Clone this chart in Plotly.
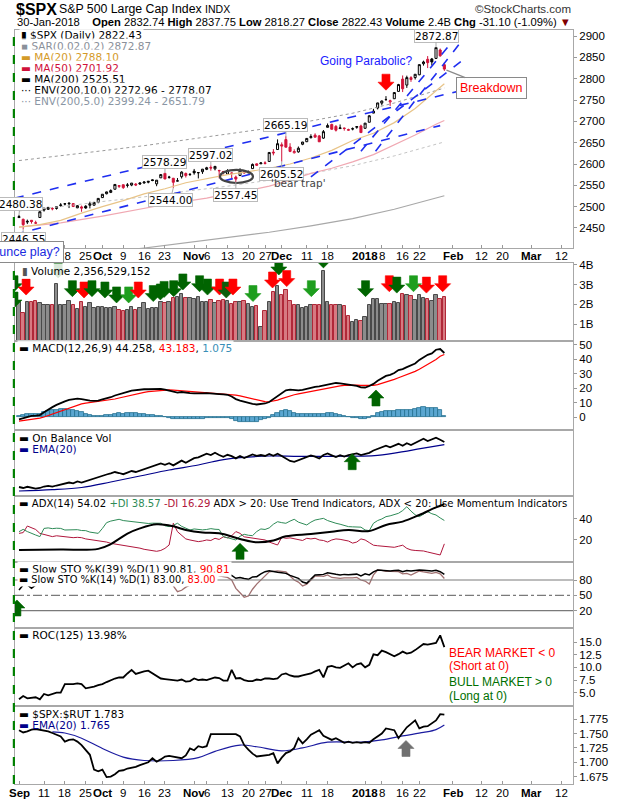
import plotly.graph_objects as go

# ---------------- data (trading-day index 0 = 1-Sep-2017, 102 = 30-Jan-2018)
PREV_CLOSE = 2471.65

OPEN = [
    2474.42, 2470.35, 2463.83, 2468.06, 2462.25, 2474.52, 2491.94, 2493.89, 2494.56, 2495.67,
    2502.51, 2506.29, 2506.84, 2507.16, 2497.26, 2499.39, 2501.04, 2503.30, 2503.41, 2510.42,
    2521.20, 2530.34, 2533.48, 2540.86, 2547.44, 2551.39, 2549.99, 2550.62, 2552.88, 2555.66,
    2555.57, 2557.17, 2562.87, 2553.39, 2567.56, 2578.08, 2568.66, 2566.52, 2560.08, 2570.26,
    2577.75, 2575.99, 2583.21, 2579.46, 2581.93, 2587.47, 2592.11, 2588.71, 2584.00, 2580.18,
    2576.53, 2577.75, 2569.45, 2572.95, 2582.94, 2579.49, 2589.17, 2600.31, 2600.42, 2602.66,
    2605.94, 2627.82, 2633.93, 2645.10, 2657.19, 2639.78, 2626.24, 2628.38, 2646.21, 2652.19,
    2661.73, 2667.59, 2665.87, 2660.63, 2685.92, 2692.71, 2688.18, 2683.02, 2684.22, 2679.09,
    2682.10, 2686.10, 2689.15, 2683.73, 2697.85, 2719.31, 2731.33, 2742.67, 2751.15, 2745.55,
    2752.97, 2770.18, 2798.96, 2784.99, 2802.40, 2802.60, 2809.16, 2835.05, 2845.42, 2846.24,
    2847.48, 2867.23, 2832.74]
HIGH = [
    2480.38, 2471.97, 2469.64, 2468.62, 2467.11, 2488.95, 2496.77, 2498.37, 2498.43, 2500.23,
    2508.32, 2507.84, 2508.85, 2507.16, 2503.47, 2502.54, 2503.51, 2511.75, 2510.81, 2519.44,
    2529.23, 2535.13, 2540.53, 2552.51, 2549.41, 2551.82, 2555.23, 2555.24, 2555.33, 2557.65,
    2559.47, 2559.71, 2564.11, 2562.36, 2575.44, 2578.29, 2572.18, 2567.40, 2567.07, 2582.98,
    2580.03, 2578.29, 2588.40, 2581.11, 2588.42, 2593.38, 2597.02, 2595.47, 2586.50, 2583.81,
    2587.66, 2579.66, 2572.84, 2590.09, 2583.96, 2584.64, 2601.19, 2600.94, 2604.21, 2606.41,
    2627.69, 2634.89, 2657.74, 2650.62, 2665.19, 2648.72, 2634.41, 2640.99, 2651.65, 2660.33,
    2669.72, 2671.88, 2668.09, 2679.63, 2694.97, 2694.44, 2691.01, 2692.64, 2685.35, 2682.74,
    2685.64, 2687.66, 2692.12, 2695.89, 2714.37, 2729.29, 2743.45, 2748.51, 2759.14, 2750.80,
    2767.56, 2787.85, 2807.54, 2807.04, 2805.83, 2810.33, 2833.03, 2842.24, 2852.97, 2848.56,
    2872.87, 2870.62, 2837.75]
LOW = [
    2473.85, 2446.55, 2459.20, 2460.29, 2459.40, 2474.52, 2488.40, 2492.14, 2491.35, 2493.16,
    2499.92, 2502.94, 2496.67, 2499.00, 2496.54, 2488.03, 2495.12, 2495.91, 2502.93, 2507.99,
    2520.40, 2528.85, 2531.80, 2540.02, 2543.79, 2541.60, 2544.86, 2547.95, 2548.31, 2552.09,
    2553.86, 2554.69, 2559.67, 2547.92, 2567.56, 2564.33, 2565.58, 2544.00, 2559.80, 2565.94,
    2568.25, 2572.15, 2574.92, 2566.17, 2576.77, 2585.66, 2584.35, 2585.02, 2566.33, 2575.57,
    2576.48, 2566.56, 2557.45, 2572.95, 2577.62, 2578.24, 2589.17, 2595.23, 2600.42, 2598.87,
    2605.44, 2620.32, 2633.93, 2605.52, 2639.03, 2627.73, 2624.75, 2626.53, 2644.10, 2651.47,
    2659.78, 2662.85, 2652.01, 2659.14, 2685.92, 2680.74, 2676.11, 2682.40, 2678.13, 2677.96,
    2678.91, 2682.69, 2673.61, 2682.36, 2697.77, 2719.07, 2727.92, 2737.60, 2747.86, 2736.06,
    2752.78, 2769.64, 2768.64, 2778.38, 2792.56, 2798.08, 2808.12, 2830.59, 2824.81, 2830.94,
    2846.18, 2851.48, 2818.27]
CLOSE = [
    2476.55, 2457.85, 2465.54, 2465.10, 2461.43, 2488.11, 2496.48, 2498.37, 2495.62, 2500.23,
    2503.87, 2506.65, 2508.24, 2500.60, 2502.22, 2496.66, 2496.84, 2507.04, 2510.06, 2519.36,
    2529.12, 2534.58, 2537.74, 2552.07, 2549.33, 2544.73, 2550.64, 2555.24, 2550.93, 2553.17,
    2557.64, 2559.36, 2561.26, 2562.10, 2575.21, 2564.98, 2569.13, 2557.15, 2560.40, 2581.07,
    2572.83, 2575.26, 2579.36, 2579.85, 2587.84, 2591.13, 2590.64, 2594.38, 2584.62, 2582.30,
    2584.84, 2578.87, 2564.62, 2585.64, 2578.85, 2582.14, 2599.03, 2597.08, 2602.42, 2601.42,
    2627.04, 2626.07, 2647.58, 2642.22, 2639.44, 2629.57, 2629.27, 2636.98, 2651.50, 2659.99,
    2664.11, 2662.85, 2652.01, 2675.81, 2690.16, 2681.47, 2679.25, 2684.57, 2683.34, 2680.50,
    2682.62, 2687.54, 2673.61, 2695.81, 2713.06, 2723.99, 2743.15, 2747.71, 2751.29, 2748.23,
    2767.56, 2786.24, 2776.42, 2802.56, 2798.03, 2810.30, 2832.97, 2839.13, 2837.54, 2839.25,
    2872.87, 2853.53, 2822.43]

MA20_X = [0, 5, 10, 15, 20, 25, 30, 35, 40, 45, 50, 55, 60, 65, 70, 75, 80, 85, 90, 95, 100, 102]
MA20 = [2452, 2458, 2468, 2485, 2500, 2514, 2530, 2542, 2556, 2566, 2575, 2582, 2590, 2600,
        2614, 2632, 2655, 2672, 2697, 2730, 2772, 2788.10]
MA50_X = [0, 10, 20, 30, 35, 45, 50, 55, 60, 65, 70, 75, 80, 85, 90, 95, 100, 102]
MA50 = [2452, 2462, 2478, 2495, 2505, 2520, 2530, 2538, 2548, 2562, 2578, 2590, 2605, 2622,
        2645, 2668, 2693, 2701.92]
MA200_X = [0, 10, 20, 30, 40, 50, 60, 70, 80, 90, 102]
MA200 = [2371, 2381, 2392, 2403, 2415, 2427, 2440, 2455, 2472, 2494, 2525.51]
ENV10_UP = [2608, 2619, 2631, 2643, 2657, 2670, 2684, 2701, 2719, 2743, 2778.07]
ENV5_UP = [2490, 2500, 2512, 2523, 2536, 2548, 2562, 2578, 2596, 2619, 2651.79]

VOLUME_B = [
    2.10, 1.55, 2.10, 2.10, 2.15, 2.05, 1.95, 1.95, 1.95, 3.05,
    1.95, 1.95, 2.15, 1.95, 1.75, 2.10, 1.85, 2.05, 1.80, 1.85,
    1.85, 1.80, 1.80, 1.85, 1.70, 1.65, 1.70, 1.85, 1.70, 1.80,
    2.05, 1.75, 1.80, 1.80, 2.10, 2.05, 2.10, 2.30, 2.35, 2.55,
    2.30, 2.30, 2.25, 2.35, 2.10, 2.10, 2.20, 2.05, 2.15, 2.20,
    2.15, 2.00, 2.10, 2.10, 2.15, 2.00, 1.85, 1.90, 0.85, 1.65,
    2.10, 2.65, 2.95, 2.45, 2.75, 2.15, 1.95, 1.95, 1.80, 1.85,
    1.95, 1.95, 1.95, 3.70, 2.10, 1.95, 1.95, 1.95, 1.90, 1.40,
    1.10, 1.20, 1.15, 1.35, 1.95, 2.25, 2.25, 2.00, 2.00, 2.00,
    2.10, 2.05, 2.55, 2.45, 2.40, 2.20, 2.45, 2.30, 2.25, 2.15,
    2.45, 2.25, 2.36]

MACD = [
    -1.5, -0.5, 0.5, 1.0, 1.2, 1.5, 3.5, 5.5, 7.0, 8.5,
    10.0, 11.0, 12.0, 12.5, 12.8, 12.5, 11.8, 11.5, 11.3, 11.5,
    12.3, 13.0, 13.8, 15.0, 16.0, 16.6, 17.5, 18.3, 18.8, 19.2,
    19.3, 19.3, 19.4, 19.3, 19.5, 19.0, 18.5, 17.6, 17.0, 17.4,
    16.9, 16.6, 16.5, 16.3, 16.4, 16.6, 16.5, 16.6, 16.0, 15.8,
    15.5, 14.3, 12.5, 11.5, 10.6, 10.0, 9.2, 8.8, 9.0, 9.5,
    10.5, 12.5, 15.0, 17.0, 18.6, 19.0, 18.7, 18.5, 18.8, 19.5,
    20.5, 21.0, 21.2, 21.8, 22.8, 23.5, 23.6, 23.4, 23.0, 22.6,
    22.0, 21.6, 20.6, 20.5, 21.5, 23.0, 25.2, 27.0, 28.5, 29.2,
    30.5, 32.5, 33.2, 34.5, 35.5, 37.0, 39.5, 41.5, 43.0, 44.0,
    46.5, 47.0, 44.258]
MACD_SIGNAL = [
    -2.6, -2.3, -2.0, -1.6, -1.1, -0.6, 0.2, 1.2, 2.2, 3.4,
    4.5, 5.6, 6.7, 7.7, 8.6, 9.2, 9.8, 10.2, 10.5, 10.8,
    11.1, 11.5, 12.0, 12.6, 13.3, 14.0, 14.7, 15.4, 16.1, 16.7,
    17.2, 17.6, 17.9, 18.2, 18.5, 18.7, 18.8, 18.7, 18.5, 18.4,
    18.2, 17.9, 17.7, 17.5, 17.3, 17.1, 16.9, 16.8, 16.6, 16.4,
    16.2, 15.8, 15.3, 14.7, 14.0, 13.2, 12.4, 11.8, 11.2, 10.8,
    10.7, 11.0, 11.8, 12.8, 13.8, 14.7, 15.5, 16.1, 16.7, 17.3,
    17.9, 18.5, 19.0, 19.5, 20.1, 20.7, 21.2, 21.6, 21.9, 22.1,
    22.2, 22.2, 22.0, 21.8, 21.7, 21.9, 22.5, 23.3, 24.3, 25.2,
    26.1, 27.2, 28.2, 29.3, 30.4, 31.6, 33.0, 34.6, 36.3, 37.9,
    39.8, 42.0, 43.183]
MACD_HIST = [
    1.1, 1.8, 2.5, 2.6, 2.3, 2.1, 3.3, 4.3, 4.8, 5.1,
    5.5, 5.4, 5.3, 4.8, 4.2, 3.3, 2.0, 1.3, 0.8, 0.7,
    1.2, 1.5, 1.8, 2.4, 2.7, 2.6, 2.8, 2.9, 2.7, 2.5,
    2.1, 1.7, 1.5, 1.1, 1.0, 0.3, -0.3, -1.1, -1.5, -1.0,
    -1.3, -1.3, -1.2, -1.2, -0.9, -0.5, -0.4, -0.2, -0.6, -0.6,
    -0.7, -1.5, -2.8, -3.2, -3.4, -3.2, -3.2, -3.0, -2.2, -1.3,
    -0.2, 1.5, 3.2, 4.2, 4.8, 4.3, 3.2, 2.4, 2.1, 2.2,
    2.6, 2.5, 2.2, 2.3, 2.7, 2.8, 2.4, 1.8, 1.1, 0.5,
    -0.2, -0.6, -1.4, -1.3, -0.2, 1.1, 2.7, 3.7, 4.2, 4.0,
    4.4, 5.3, 5.0, 5.2, 5.1, 5.4, 6.5, 6.9, 6.7, 6.1,
    6.7, 5.0, 1.075]

OBV = [
    9.0, 8.0, 9.2, 8.5, 7.3, 8.0, 9.5, 10.2, 9.4, 10.5,
    11.5, 12.3, 13.5, 12.6, 14.5, 13.4, 14.8, 16.2, 17.8, 19.0,
    20.2, 21.5, 22.6, 24.0, 23.0, 21.8, 23.4, 25.0, 24.0, 25.5,
    27.0, 28.3, 29.8, 31.0, 32.5, 31.2, 32.8, 30.6, 32.6, 35.4,
    33.2, 35.5, 37.8, 38.6, 40.8, 42.4, 41.0, 43.2, 41.0, 39.2,
    41.2, 39.8, 37.6, 40.0, 38.0, 39.6, 41.5, 40.2, 41.0, 40.0,
    42.0, 40.2, 42.2, 40.0, 37.2, 35.0, 34.2, 36.0, 37.6, 39.2,
    40.6, 39.4, 37.5, 41.0, 42.5, 40.7, 39.0, 40.8, 39.5, 40.8,
    41.6, 42.6, 40.9, 42.0, 43.2, 45.5, 47.3, 48.9, 50.4, 48.7,
    50.5, 52.2, 50.3, 52.8, 51.0, 53.3, 55.5, 57.2, 55.0, 56.4,
    58.3, 56.2, 54.0]
OBV_EMA_X = [0, 8, 15, 22, 29, 36, 43, 48, 53, 60, 67, 75, 86, 94, 102]
OBV_EMA = [5.0, 6.3, 8.5, 14.0, 20.0, 26.0, 31.0, 35.7, 38.3, 40.0, 39.7, 39.7, 40.7, 45.7, 51.3]

ADX_X = [0, 10, 19, 22, 24, 26, 29, 33, 37, 40, 44, 48, 53, 57, 61, 64, 70, 75, 79, 84, 88, 92, 96, 100, 102]
ADX = [10.5, 10.8, 11.5, 16.0, 21.0, 26.0, 31.0, 34.9, 33.0, 29.5, 27.0, 26.3, 21.0, 17.8,
       19.5, 23.5, 25.7, 27.9, 29.5, 28.5, 34.3, 37.5, 43.8, 51.0, 54.02]
PLUS_DI = [
    27.9, 30.1, 28.0, 26.0, 24.7, 23.2, 31.0, 31.5, 30.8, 31.2,
    31.0, 29.5, 29.5, 30.2, 29.8, 29.0, 28.9, 27.5, 26.8, 26.3,
    31.0, 36.5, 38.0, 38.5, 39.7, 38.5, 38.0, 37.4, 36.5, 36.2,
    35.9, 35.7, 36.0, 35.8, 35.9, 33.5, 32.7, 34.0, 35.9, 33.0,
    31.0, 29.5, 30.5, 30.0, 29.6, 30.0, 30.8, 30.2, 30.0, 23.2,
    22.0, 21.0, 20.0, 23.5, 25.4, 24.5, 24.1, 28.0, 30.5, 30.0,
    31.5, 35.0, 37.4, 36.5, 35.9, 38.0, 39.7, 37.0, 35.5, 34.3,
    37.0, 39.0, 39.8, 40.6, 38.5, 37.0, 35.9, 35.0, 33.8, 32.7,
    32.5, 32.0, 32.2, 29.5, 28.9, 35.9, 38.5, 40.0, 42.2, 43.0,
    44.5, 45.4, 48.0, 51.7, 47.5, 44.0, 42.2, 44.5, 47.0, 45.0,
    43.8, 41.0, 38.57]
MINUS_DI = [
    26.3, 27.0, 33.3, 31.5, 30.0, 26.3, 25.5, 24.5, 23.2, 24.0,
    23.5, 23.5, 22.8, 22.2, 22.5, 22.2, 21.0, 20.5, 19.8, 19.3,
    18.5, 18.0, 16.8, 16.2, 15.5, 15.0, 14.3, 13.5, 13.0, 12.2,
    11.1, 10.5, 9.5, 9.2, 10.0, 12.0, 15.2, 35.9, 27.9, 24.0,
    21.0, 20.0, 19.0, 18.4, 19.0, 20.0, 19.5, 21.6, 20.5, 23.0,
    22.0, 24.0, 28.0, 26.3, 23.0, 22.5, 21.5, 21.0, 20.5, 20.0,
    18.0, 16.5, 15.2, 22.5, 21.6, 22.0, 21.0, 20.5, 19.5, 21.6,
    21.0, 21.6, 20.0, 19.5, 18.0, 20.0, 21.0, 20.6, 20.0, 19.0,
    17.0, 18.0, 21.0, 20.0, 17.5, 15.0, 14.5, 14.0, 13.8, 13.6,
    13.0, 14.0, 15.0, 12.0, 10.5, 10.0, 9.8, 9.5, 8.5, 7.5,
    6.5, 5.7, 16.29]

STO39 = [
    60.5, 70.3, 70.3, 63.7, 70.3, 88, 92, 94, 93, 95,
    96, 96, 97, 94, 95, 92, 92, 95, 96, 98,
    99, 99, 99, 99, 98, 97, 98, 98, 97, 97,
    98, 98, 98, 98, 99, 96, 96, 90, 91, 96,
    94, 94, 95, 95, 96, 97, 97, 97, 94, 92,
    91, 89, 83.3, 85, 83, 81.3, 86, 86.5, 92, 96.3,
    98, 96, 95, 94.4, 93, 89, 86, 83.3, 76, 73.5,
    82, 89.8, 90.5, 91, 94, 92, 91.1, 90, 91, 90.5,
    91, 91.5, 88, 92, 90, 96, 99.6, 99, 98, 97.6,
    98.5, 99, 96, 98.5, 97.6, 98.5, 99.6, 99, 98, 97.5,
    99, 96.3, 90.81]
STO14 = [
    75, 78, 82, 80, 84, 95, 97, 98, 96, 97,
    97, 96, 97, 92, 93, 88, 89, 93, 95, 98,
    99, 99, 98, 99, 96, 92, 94, 96, 93, 94,
    96, 96, 97, 96, 99, 92, 92, 68.3, 57.2, 60,
    66, 70, 73.5, 80, 86, 92, 93, 96, 88, 86,
    85, 80, 63.7, 55, 46.2, 48.8, 62, 72, 80, 88,
    96, 97, 98, 97, 96, 88, 80, 76, 68.3, 72,
    80, 87.8, 88, 87, 90, 85, 84, 83, 84, 83.3,
    84, 85, 80, 78, 72.2, 90, 99.6, 99, 97, 97,
    97, 96.3, 92, 93, 89.8, 93, 97.6, 96, 94, 93,
    95, 92, 83.0]

ROC125 = [
    3.7, 4.35, 3.9, 4.0, 4.1, 3.7, 4.75, 4.5, 4.8, 5.0,
    5.0, 6.7, 6.7, 6.7, 6.85, 6.7, 5.87, 6.0, 6.2, 6.5,
    6.7, 7.1, 7.5, 7.8, 8.03, 8.0, 8.8, 9.5, 8.7, 9.0,
    9.2, 9.35, 8.8, 8.4, 7.8, 7.7, 7.6, 7.5, 7.4, 7.6,
    7.2, 7.3, 7.8, 7.5, 7.6, 7.5, 7.8, 8.0, 7.9, 7.4,
    7.4, 9.5, 7.8, 7.9, 7.5, 7.3, 7.3, 7.6, 7.5, 7.8,
    7.8, 7.7, 7.8, 8.6, 8.8, 8.4, 8.2, 8.2, 8.4, 8.6,
    8.8, 9.2, 9.5, 8.03, 10.1, 10.3, 10.0, 9.9, 10.4, 10.8,
    10.0, 10.6, 10.8, 10.0, 10.5, 12.57, 12.4, 13.3, 13.0, 12.6,
    12.2, 12.6, 13.1, 12.7, 12.9, 13.4, 14.0, 14.6, 14.5, 14.6,
    14.8, 16.3, 13.98]

SPX_RUT = [
    1.756, 1.752, 1.754, 1.757, 1.758, 1.757, 1.756, 1.754, 1.751, 1.748,
    1.745, 1.736, 1.739, 1.740, 1.736, 1.730, 1.721, 1.713, 1.687, 1.684,
    1.687, 1.674, 1.675, 1.679, 1.685, 1.686, 1.689, 1.690, 1.692, 1.695,
    1.697, 1.700, 1.707, 1.701, 1.705, 1.710, 1.711, 1.710, 1.709, 1.707,
    1.712, 1.724, 1.721, 1.728, 1.726, 1.728, 1.749, 1.749, 1.750, 1.749,
    1.750, 1.749, 1.749, 1.745, 1.730, 1.722, 1.715, 1.710, 1.711, 1.712,
    1.713, 1.716, 1.698, 1.708, 1.716, 1.719, 1.725, 1.742, 1.733, 1.740,
    1.748, 1.752, 1.756, 1.746, 1.743, 1.739, 1.742, 1.738, 1.734, 1.736,
    1.734, 1.735, 1.734, 1.735, 1.734, 1.740, 1.745, 1.750, 1.759, 1.757,
    1.756, 1.742, 1.752, 1.761, 1.767, 1.773, 1.759, 1.762, 1.763, 1.768,
    1.773, 1.784, 1.783]
RUT_EMA_X = [8, 11, 15, 20, 25, 30, 37, 43, 47, 53, 57, 63, 68, 74, 82, 87, 92, 97, 100, 102]
RUT_EMA = [1.753, 1.751, 1.742, 1.724, 1.709, 1.703, 1.703, 1.708, 1.719, 1.730, 1.727,
           1.720, 1.725, 1.735, 1.735, 1.739, 1.746, 1.752, 1.757, 1.765]

TICK_POS = [0, 6, 11, 16, 20, 25, 30, 35, 42, 45, 50, 55, 59, 63, 69, 74, 83, 87, 92, 96,
            104, 111, 116, 123, 130]
TICK_TEXT = ["<b>Sep</b>", "11", "18", "25", "<b>Oct</b>", "9", "16", "23", "<b>Nov</b>", "6",
             "13", "20", "27", "<b>Dec</b>", "11", "18", "<b>2018</b>", "8", "16", "22",
             "<b>Feb</b>", "12", "20", "<b>Mar</b>", "12"]

# price call-outs: text, day, price, x offset, y offset
PRICE_LABELS = [("2480.38", 0, 2480.38, 1, -11), ("2446.55", 1, 2446.55, 0, 10),
                ("2578.29", 35, 2578.29, 0, -11), ("2544.00", 37, 2544.00, -3, 12),
                ("2597.02", 46, 2597.02, 0, -10), ("2557.45", 52, 2557.45, 0, 13),
                ("2605.52", 63, 2605.52, 0, 12), ("2665.19", 64, 2665.19, 0, -11),
                ("2872.87", 100, 2872.87, 0, -12)]
# hand-drawn trend lines (day, price) -> (day, price)
TRENDLINES = [(-1, 2520, 106, 2772), (-1, 2435, 101, 2690),
              (70, 2570, 107, 2848),
              (82, 2630, 103.5, 2882), (85.5, 2630, 105.5, 2880)]
# user arrows: panel, day, tip value, direction, colour
ARROWS = [
    ("y2", -1.2, 2.64, "down", "#006400"), ("y2", -1.2, 1.81, "down", "#006400"),
    ("y2", 1.7, 2.47, "down", "#FF0000"), ("y2", 9.4, 3.34, "down", "#006400"),
    ("y2", 12.8, 2.39, "down", "#006400"), ("y2", 15.6, 2.32, "down", "#FF0000"),
    ("y2", 17.5, 2.39, "down", "#006400"), ("y2", 20.6, 2.32, "down", "#006400"),
    ("y2", 23.4, 2.07, "down", "#006400"), ("y2", 26.3, 2.07, "down", "#1E9E1E"),
    ("y2", 28.6, 2.32, "down", "#FF0000"), ("y2", 32.2, 2.14, "down", "#006400"),
    ("y2", 33.9, 2.22, "down", "#006400"), ("y2", 34.8, 2.35, "down", "#006400"),
    ("y2", 37.1, 2.39, "down", "#006400"), ("y2", 39.3, 2.73, "down", "#006400"),
    ("y2", 43.3, 2.64, "down", "#006400"), ("y2", 45.2, 2.47, "down", "#006400"),
    ("y2", 48.1, 2.47, "down", "#FF0000"), ("y2", 49.7, 2.32, "down", "#0B5E0B"),
    ("y2", 51.3, 2.47, "down", "#FF0000"), ("y2", 56.1, 2.14, "down", "#1E9E1E"),
    ("y2", 60.8, 2.83, "down", "#FF0000"), ("y2", 62.3, 3.49, "down", "#006400"),
    ("y2", 64.2, 2.90, "down", "#FF0000"), ("y2", 70.1, 2.39, "down", "#1E9E1E"),
    ("y2", 73.0, 3.85, "down", "#006400"), ("y2", 83.1, 2.39, "down", "#006400"),
    ("y2", 88.8, 2.64, "down", "#FF0000"), ("y2", 90.6, 2.57, "down", "#006400"),
    ("y2", 94.6, 2.64, "down", "#1E9E1E"), ("y2", 97.7, 2.57, "down", "#FF0000"),
    ("y2", 101.6, 2.64, "down", "#FF0000"),
    ("y", 88.0, 2773, "down", "#FF0000"),
    ("y3", 85.6, 18.8, "up", "#006400"),
    ("y4", 79.9, 42.3, "up", "#006400"),
    ("y5", 53.0, 16.8, "up", "#006400"),
    ("y6", -0.5, 41.0, "up", "#006400"),
    ("y8", 92.8, 1.738, "up", "#707070"),
]

# ---------------- layout helpers
W, H = 620, 800
ML, MR, MT, MB = 15, 47, 30, 16
VERD = "DejaVu Sans"
ARIAL = "Liberation Sans"
RED = "#D2143A"


def px_x(x):  # page pixel -> paper fraction
    return (x - ML) / (W - ML - MR)


def px_y(y):
    return (H - MB - y) / (H - MT - MB)


PANELS = [  # (top px, bottom px, y range, tick values, tick labels)
    (30, 248, [2403.1, 2914.1], list(range(2450, 2901, 50)), None),
    (263, 341, [0.136, 4.10], [1, 2, 3, 4], ["1B", "2B", "3B", "4B"]),
    (341, 430, [-8.75, 52.5], [0, 10, 20, 30, 40, 50], None),
    (430, 496, [0, 66], [], None),
    (496, 562, [-1.0, 61.9], [20, 40], None),
    (562, 628, [-13.8, 115.2], [20, 50, 80], None),
    (628, 706, [2.38, 17.76], [5, 7.5, 10, 12.5, 15], ["5.0", "7.5", "10.0", "12.5", "15.0"]),
    (706, 784, [1.662, 1.7982], [1.675, 1.7, 1.725, 1.75, 1.775],
     ["1.675", "1.700", "1.725", "1.750", "1.775"]),
]

fig = go.Figure()
n = len(CLOSE)
days = list(range(n))
prev = [PREV_CLOSE] + CLOSE[:-1]

# ---------------- price panel
fig.add_trace(go.Scatter(x=MA200_X, y=ENV5_UP, mode="lines", line=dict(color="#C4C4C4", width=1, dash="dot")))
fig.add_trace(go.Scatter(x=MA200_X, y=ENV10_UP, mode="lines", line=dict(color="#9A9A9A", width=1, dash="dot")))
fig.add_trace(go.Scatter(x=MA200_X, y=MA200, mode="lines", line=dict(color="#A8A8A8", width=1.2)))
fig.add_trace(go.Scatter(x=MA50_X, y=MA50, mode="lines", line=dict(color="#F0A8B2", width=1.2)))
fig.add_trace(go.Scatter(x=MA20_X, y=MA20, mode="lines", line=dict(color="#E8C488", width=1.2)))

for up, col in ((True, "black"), (False, RED)):
    idx = [i for i in days if (CLOSE[i] >= prev[i]) == up]
    fig.add_trace(go.Candlestick(
        x=idx, open=[OPEN[i] for i in idx], high=[HIGH[i] for i in idx],
        low=[LOW[i] for i in idx], close=[CLOSE[i] for i in idx],
        increasing=dict(fillcolor="white", line=dict(color=col, width=1)),
        decreasing=dict(fillcolor=col, line=dict(color=col, width=1)),
        whiskerwidth=0, hoverinfo="skip",
    ))

# ---------------- volume
vol_fill = ["#8C8C8C" if CLOSE[i] >= prev[i] else "#D77A82" for i in days]
vol_edge = ["#4A4A4A" if CLOSE[i] >= prev[i] else "#B02838" for i in days]
fig.add_trace(go.Bar(x=days, y=VOLUME_B, xaxis="x2", yaxis="y2", width=0.82,
                     marker=dict(color=vol_fill, line=dict(color=vol_edge, width=1))))

# ---------------- MACD
fig.add_trace(go.Bar(x=days, y=MACD_HIST, xaxis="x3", yaxis="y3", width=1.0,
                     marker=dict(color="#5AA6D0", line=dict(color="#23708F", width=0.8))))
fig.add_trace(go.Scatter(x=days, y=MACD_SIGNAL, xaxis="x3", yaxis="y3", mode="lines",
                         line=dict(color="#FF0000", width=1.2)))
fig.add_trace(go.Scatter(x=days, y=MACD, xaxis="x3", yaxis="y3", mode="lines",
                         line=dict(color="black", width=1.8)))

# ---------------- OBV
fig.add_trace(go.Scatter(x=OBV_EMA_X, y=OBV_EMA, xaxis="x4", yaxis="y4", mode="lines",
                         line=dict(color="#00008B", width=1.2, shape="spline")))
fig.add_trace(go.Scatter(x=days, y=OBV, xaxis="x4", yaxis="y4", mode="lines",
                         line=dict(color="black", width=1.8)))

# ---------------- ADX
fig.add_trace(go.Scatter(x=days, y=MINUS_DI, xaxis="x5", yaxis="y5", mode="lines",
                         line=dict(color="#B0163C", width=1)))
fig.add_trace(go.Scatter(x=days, y=PLUS_DI, xaxis="x5", yaxis="y5", mode="lines",
                         line=dict(color="#2E8B57", width=1)))
fig.add_trace(go.Scatter(x=ADX_X, y=ADX, xaxis="x5", yaxis="y5", mode="lines",
                         line=dict(color="black", width=2, shape="spline")))

# ---------------- Slow stochastics
fig.add_trace(go.Scatter(x=days, y=STO14, xaxis="x6", yaxis="y6", mode="lines",
                         line=dict(color="#A07070", width=1.3)))
fig.add_trace(go.Scatter(x=days, y=STO39, xaxis="x6", yaxis="y6", mode="lines",
                         line=dict(color="black", width=1.5)))

# ---------------- ROC
fig.add_trace(go.Scatter(x=days, y=ROC125, xaxis="x7", yaxis="y7", mode="lines",
                         line=dict(color="black", width=1.8)))

# ---------------- SPX:RUT
fig.add_trace(go.Scatter(x=RUT_EMA_X, y=RUT_EMA, xaxis="x8", yaxis="y8", mode="lines",
                         line=dict(color="#1C1CA0", width=1.2, shape="spline")))
fig.add_trace(go.Scatter(x=days, y=SPX_RUT, xaxis="x8", yaxis="y8", mode="lines",
                         line=dict(color="black", width=1.8)))

# ---------------- axes
layout = dict(width=W, height=H, margin=dict(l=ML, r=MR, t=MT, b=MB, autoexpand=False),
              paper_bgcolor="white", plot_bgcolor="white", showlegend=False,
              bargap=0, hovermode=False,
              font=dict(family=ARIAL, size=11, color="black"))
for k, (top, bot, rng, tv, tt) in enumerate(PANELS, start=1):
    sfx = "" if k == 1 else str(k)
    show_x = k in (1, 8)
    layout["xaxis" + sfx] = dict(
        domain=[0, 1], anchor="y" + sfx, range=[-0.96, 132.85], automargin=False,
        showgrid=False, zeroline=False, showline=True, mirror=True,
        linecolor="#A8A8A8", linewidth=1,
        tickmode="array", tickvals=TICK_POS, showticklabels=False,
        ticks="inside" if show_x else "", ticklen=3, tickcolor="#999",
        rangeslider=dict(visible=False), fixedrange=True,
    )
    if k > 1:
        layout["xaxis" + sfx]["matches"] = "x"
    layout["yaxis" + sfx] = dict(
        domain=[px_y(bot), px_y(top)], anchor="x" + sfx, range=rng, side="right",
        automargin=False,
        showgrid=False, zeroline=False, showline=True, mirror=True,
        linecolor="#A8A8A8", linewidth=1,
        tickmode="array", tickvals=tv, ticktext=tt if tt else [str(v) for v in tv],
        ticks="outside", ticklen=3, tickcolor="#999",
        tickfont=dict(family=ARIAL, size=11.5, color="black"), fixedrange=True,
    )
fig.update_layout(**layout)

# date labels under the price panel and under the last panel
for pos, txt in zip(TICK_POS, TICK_TEXT):
    for ypx in (256, 793):
        fig.add_annotation(text=txt, x=pos, y=px_y(ypx), xref="x", yref="paper",
                           xanchor="center", yanchor="middle", showarrow=False,
                           font=dict(family=ARIAL, size=11.5, color="black"))

# ---------------- reference lines
for lvl, dash in ((80, "solid"), (50, "dashdot"), (20, "solid")):
    fig.add_shape(type="line", xref="paper", yref="y6", x0=0, x1=1, y0=lvl, y1=lvl,
                  line=dict(color="#7A7A7A", width=1.2, dash=dash))
fig.add_shape(type="line", xref="paper", yref="paper", x0=-0.002, x1=-0.002, y0=0, y1=1,
              line=dict(color="#008000", width=2.2, dash="dash"))

for x0, y0, x1, y1 in TRENDLINES:
    fig.add_shape(type="line", xref="x", yref="y", x0=x0, y0=y0, x1=x1, y1=y1,
                  line=dict(color="#1E2EF0", width=1.6, dash="dash"))
fig.add_shape(type="circle", xref="x", yref="y", x0=48.2, x1=56.1, y0=2555.5, y1=2586,
              line=dict(color="#444", width=2.2))


def arrow_path(direction):
    if direction == "down":
        return "M0,0 L-8,8 L-4,8 L-4,16 L4,16 L4,8 L8,8 Z"
    return "M0,0 L-8,-8 L-4,-8 L-4,-16 L4,-16 L4,-8 L8,-8 Z"


for yref, day, val, direc, col in ARROWS:
    fig.add_shape(type="path", path=arrow_path(direc), xref="x", yref=yref,
                  xsizemode="pixel", ysizemode="pixel", xanchor=day, yanchor=val,
                  fillcolor=col, line=dict(color=col, width=0.6))

# ---------------- text
def note(text, x, y, size=10.5, color="black", family=VERD, anchor="left", **kw):
    fig.add_annotation(text=text, x=px_x(x), y=px_y(y), xref="paper", yref="paper",
                       xanchor=anchor, yanchor="middle", showarrow=False,
                       font=dict(size=size, color=color, family=family), **kw)


note("<b>$SPX</b>", 14, 9, size=16, family=ARIAL)
note("S&P 500 Large Cap Index <span style='font-size:10.5px'>INDX</span>", 57, 9, size=12.3, family=ARIAL)
note("©StockCharts.com", 573, 9, size=11.5, family=ARIAL, color="#333", anchor="right")
note("30-Jan-2018 &nbsp;&nbsp; <b>Open</b> 2832.74 <b>High</b> 2837.75 <b>Low</b> 2818.27 "
     "<b>Close</b> 2822.43 <b>Volume</b> 2.4B <b>Chg</b> -31.10 (-1.09%) "
     "<span style='color:#800000'>▼</span>", 15, 22, size=11.2, family=ARIAL)

main_leg = [("▮ $SPX (Daily) 2822.43", "black"), ("▪ SAR(0.02,0.2) 2872.87", "#8A909A"),
            ("▬ MA(20) 2788.10", "#D49A28"), ("▬ MA(50) 2701.92", "#D0103A"),
            ("▬ MA(200) 2525.51", "black"), ("··· ENV(200,10.0) 2272.96 - 2778.07", "black"),
            ("··· ENV(200,5.0) 2399.24 - 2651.79", "#8A96A4")]
for r, (t, c) in enumerate(main_leg):
    note(t, 19, 35 + 11 * r, color=c, bgcolor="rgba(255,255,255,0.85)")

for t, day, price, ax, ay in PRICE_LABELS:
    fig.add_annotation(text=t, x=day, y=price, xref="x", yref="y", ax=ax, ay=ay,
                       showarrow=True, arrowhead=0, arrowwidth=1, arrowcolor="#AAAAAA",
                       font=dict(size=10.5, family=VERD, color="black"),
                       bgcolor="white", bordercolor="#BBBBBB", borderwidth=1, borderpad=0)

note("'bear trap'", 269, 183, color="#444")
note("Going Parabolic?", 318, 61, size=12, family=ARIAL, color="#2020FF")
fig.add_annotation(text="Breakdown", x=102.5, y=2820, xref="x", yref="y", ax=45, ay=18,
                   showarrow=True, arrowhead=0, arrowwidth=1.2, arrowcolor="#8A8A8A",
                   font=dict(size=12.5, family=ARIAL, color="#FF0000"),
                   bgcolor="white", bordercolor="#8A8A8A", borderwidth=1, borderpad=3)
note("Bounce play?", 64, 252, size=12.5, family=ARIAL, color="#1A2AE0", anchor="right",
     bgcolor="white", bordercolor="#8A8A8A", borderwidth=1, borderpad=3)

note("<span style='color:#555'>▮</span> Volume 2,356,529,152", 20, 271,
     bgcolor="rgba(255,255,255,0.85)")
note("▬ MACD(12,26,9) 44.258, <span style='color:#FF0000'>43.183</span>, "
     "<span style='color:#3A8FB7'>1.075</span>", 17, 348, bgcolor="rgba(255,255,255,0.85)")
note("▬ On Balance Vol", 17, 438)
note("<span style='color:#00008B'>▬ EMA(20)</span>", 17, 449)
note("▬ ADX(14) 54.02 <span style='color:#2E8B57'>+DI 38.57</span> "
     "<span style='color:#B0163C'>-DI 16.29</span> ADX &gt; 20: Use Trend Indicators, "
     "ADX &lt; 20: Use Momentum Indicators", 17, 503, size=10.1)
note("▬ Slow STO %K(39) %D(1) 90.81, <span style='color:#FF0000'>90.81</span>", 17, 569,
     bgcolor="white")
note("▬ Slow STO %K(14) %D(1) 83.00, <span style='color:#FF0000'>83.00</span>", 17, 579,
     size=9.8, bgcolor="white")
note("▬ ROC(125) 13.98%", 17, 635)
note("▬ $SPX:$RUT 1.783", 17, 714)
note("<span style='color:#00008B'>▬ EMA(20) 1.765</span>", 17, 725)

note("BEAR MARKET &lt; 0", 447, 653, size=12, family=ARIAL, color="#FF0000")
note("(Short at 0)", 447, 666, size=12, family=ARIAL, color="#FF0000")
note("BULL MARKET &gt; 0", 447, 682, size=12, family=ARIAL, color="#007000")
note("(Long at 0)", 447, 696, size=12, family=ARIAL, color="#007000")

# the page's default 8px body margin would push the chart off its 620x800 frame
fig.write_html("out.html", config={"displayModeBar": False},
               post_script="document.body.style.margin='0';")
